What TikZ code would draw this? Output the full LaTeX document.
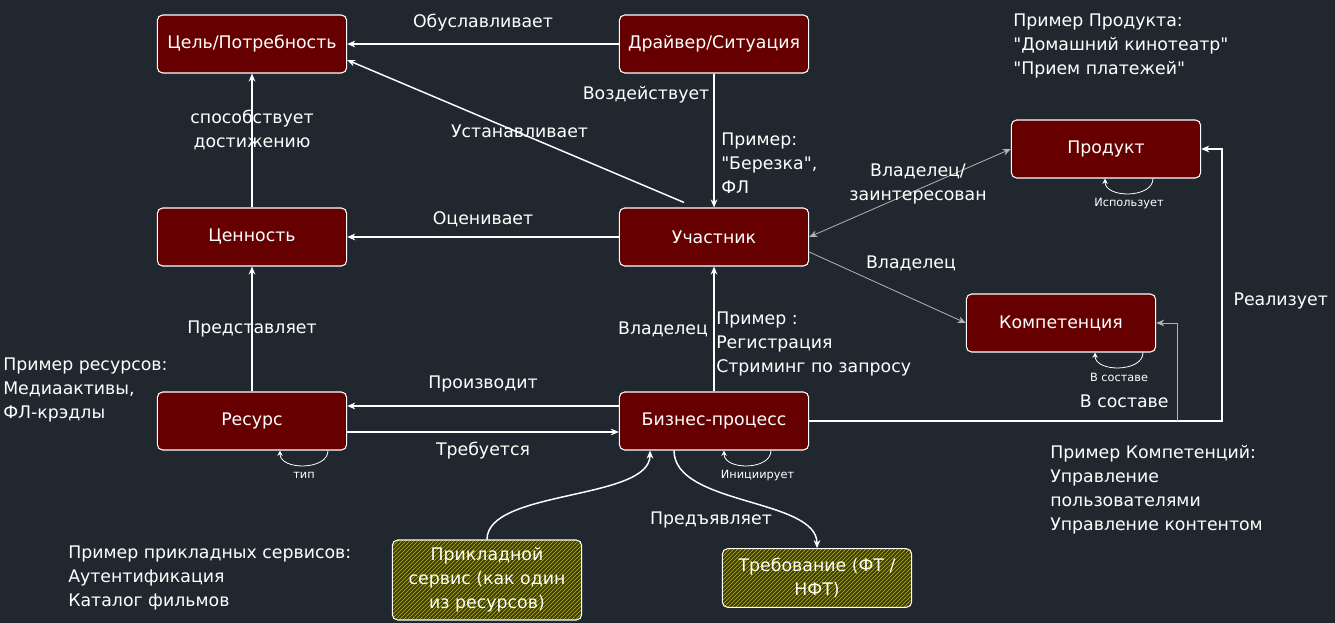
\documentclass[tikz,border=0pt]{standalone}
\usepackage{fontspec}
\setmainfont{DejaVu Sans}[Ligatures=TeXOff]
\usetikzlibrary{positioning, arrows.meta, calc, patterns}

\definecolor{boardbg}{HTML}{21272E}
\definecolor{boxred}{HTML}{660000}
\definecolor{hatchline}{HTML}{B8B822}
\definecolor{hatchbase}{HTML}{3C3C16}
\definecolor{thinline}{HTML}{B4B4B4}

\newcommand{\mainfnt}{\fontsize{13}{18}\selectfont}
\newcommand{\smallfnt}{\fontsize{8.5}{10}\selectfont}

\begin{document}
\begin{tikzpicture}[
    x=0.75pt, y=-0.75pt,
    >={Stealth[length=6pt, width=5pt]},
    entity/.style={draw=white, line width=0.8pt, fill=boxred, rounded corners=4pt, minimum width=142pt, minimum height=43.5pt, text=white, font=\mainfnt, align=center, inner sep=2pt},
    hatched/.style={draw=white, line width=0.8pt, rounded corners=4pt, minimum width=142pt, preaction={fill=hatchbase}, pattern=north east lines, pattern color=hatchline, text=white, font=\mainfnt, align=center, inner sep=2pt},
    link/.style={draw=white, line width=1.1pt, ->},
    thinlink/.style={draw=thinline, line width=0.6pt, ->},
    selflink/.style={draw=white, line width=0.6pt, ->, >={Stealth[length=4pt, width=4pt]}},
    lbl/.style={text=white, font=\mainfnt, align=center, inner sep=1pt},
    note/.style={text=white, font=\mainfnt, align=left, inner sep=0pt},
    tiny/.style={text=white, font=\smallfnt, inner sep=0pt},
]
    % Background and page size
    \fill[boardbg] (0,0) rectangle (1335,623);
    \useasboundingbox (0,0) rectangle (1335,623);

    % Draw the entities
    \node[entity] (goal) at (252,44) {Цель/Потребность};
    \node[entity] (driver) at (714,44) {Драйвер/Ситуация};
    \node[entity] (value) at (252,237) {Ценность};
    \node[entity] (actor) at (714,237) {Участник};
    \node[entity] (product) at (1106,149) {Продукт};
    \node[entity] (skill) at (1061,323) {Компетенция};
    \node[entity] (resource) at (252,421) {Ресурс};
    \node[entity] (process) at (714,421) {Бизнес-процесс};
    \node[hatched, minimum height=60pt] (service) at (487,580) {Прикладной\\сервис (как один\\из ресурсов)};
    \node[hatched, minimum height=44pt] (reqmt) at (817,578) {Требование (ФТ /\\НФТ)};

    % Draw the examples
    \node[note, anchor=north west] (prodnote) at (1013,14) {Пример Продукта:\\"Домашний кинотеатр"\\"Прием платежей"};
    \node[note, anchor=north west] (resnote) at (3,358) {Пример ресурсов:\\Медиаактивы,\\ФЛ-крэдлы};
    \node[note, anchor=north west] (svcnote) at (68,546) {Пример прикладных сервисов:\\Аутентификация\\Каталог фильмов};
    \node[note, anchor=north west] (skillnote) at (1050,445) {Пример Компетенций:\\Управление\\пользователями\\Управление контентом};
    \node[note, anchor=north west] (actornote) at (721,133) {Пример:\\"Березка",\\ФЛ};
    \node[note, anchor=north west] (procnote) at (716,312) {Пример :\\Регистрация\\Стриминг по запросу};

    % Connect the entities
    \draw[link] (driver) -- node[lbl, above=8pt] {Обуславливает} (goal);
    \draw[link] ($(actor.north)+(-30,-5)$) -- node[lbl, midway, xshift=3pt] {Устанавливает} ($(goal.east)+(0,16)$);
    \draw[link] (driver) -- node[lbl, pos=0.16, left=2pt] {Воздействует} (actor);
    \draw[link] (actor) -- node[lbl, above=6pt] {Оценивает} (value);
    \draw[link] (value) -- node[lbl, pos=0.58] {способствует\\достижению} (goal);
    \draw[link] (resource) -- node[lbl, midway] {Представляет} (value);
    \draw[link] ($(process.west)+(0,-15)$) -- node[lbl, above=9pt] {Производит} ($(resource.east)+(0,-15)$);
    \draw[link] ($(resource.east)+(0,11)$) -- node[lbl, below=6pt] {Требуется} ($(process.west)+(0,11)$);
    \draw[link] (process) -- node[lbl, midway, left=3pt] {Владелец} (actor);
    \draw[thinlink, <->] (actor.east) -- node[lbl, midway, xshift=6pt, yshift=7pt] {Владелец/\\заинтересован} (product.west);
    \draw[thinlink] ($(actor.east)+(0,15)$) -- node[lbl, pos=0.65, above=19pt] {Владелец} (skill.west);

    % Realisation rail on the right
    \coordinate (railR) at ($(product.east)+(21,0)$);
    \coordinate (railC) at (1177,421);
    \draw[link] (process.east) -| node[lbl, pos=0.72, right=7pt] {Реализует} (railR) -- (product.east);
    \draw[thinlink] (railC) |- node[lbl, pos=0.1, left=5pt] {В составе} (skill.east);

    % Curved connectors below the process
    \draw[link] (service.north) .. controls +(0,-50) and +(0,50) .. ($(process.south)+(-64,0)$);
    \draw[link] ($(process.south)+(-40,0)$) .. controls +(0,55) and +(0,-50) .. node[lbl, pos=0.4, xshift=-10pt, yshift=-19pt] {Предъявляет} (reqmt.north);

    % Self loops
    \foreach \name/\ra/\la/\dx/\txt in {resource/76/28/0/тип, process/57/10/10/Инициирует, product/47/-1/0/Использует, skill/82/34/0/В составе}
    {
        \draw[selflink] ($(\name.south)+(\ra,0)$) .. controls +(0,20) and +(0,20) .. ($(\name.south)+(\la,0)$);
        \node[tiny] at ($(\name.south)+({(\ra+\la)/2+\dx},25)$) {\txt};
    }
\end{tikzpicture}
\end{document}
